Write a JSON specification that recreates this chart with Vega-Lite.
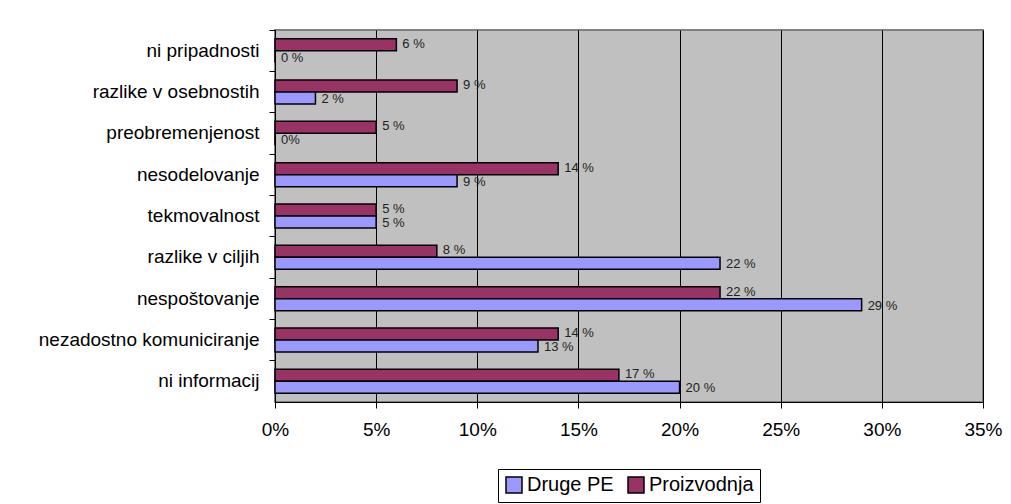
{
  "$schema": "https://vega.github.io/schema/vega-lite/v6.json",
  "width": 708,
  "height": 372,
  "autosize": {"type": "none"},
  "padding": {"left": 275, "top": 30, "right": 28, "bottom": 102},
  "background": "white",
  "data": {
    "values": [
      {"cause": "ni pripadnosti", "series": "Proizvodnja", "share": 0.06, "label": "6 %"},
      {"cause": "ni pripadnosti", "series": "Druge PE", "share": 0.0, "label": "0 %"},
      {"cause": "razlike v osebnostih", "series": "Proizvodnja", "share": 0.09, "label": "9 %"},
      {"cause": "razlike v osebnostih", "series": "Druge PE", "share": 0.02, "label": "2 %"},
      {"cause": "preobremenjenost", "series": "Proizvodnja", "share": 0.05, "label": "5 %"},
      {"cause": "preobremenjenost", "series": "Druge PE", "share": 0.0, "label": "0%"},
      {"cause": "nesodelovanje", "series": "Proizvodnja", "share": 0.14, "label": "14 %"},
      {"cause": "nesodelovanje", "series": "Druge PE", "share": 0.09, "label": "9 %"},
      {"cause": "tekmovalnost", "series": "Proizvodnja", "share": 0.05, "label": "5 %"},
      {"cause": "tekmovalnost", "series": "Druge PE", "share": 0.05, "label": "5 %"},
      {"cause": "razlike v ciljih", "series": "Proizvodnja", "share": 0.08, "label": "8 %"},
      {"cause": "razlike v ciljih", "series": "Druge PE", "share": 0.22, "label": "22 %"},
      {"cause": "nespoštovanje", "series": "Proizvodnja", "share": 0.22, "label": "22 %"},
      {"cause": "nespoštovanje", "series": "Druge PE", "share": 0.29, "label": "29 %"},
      {"cause": "nezadostno komuniciranje", "series": "Proizvodnja", "share": 0.14, "label": "14 %"},
      {"cause": "nezadostno komuniciranje", "series": "Druge PE", "share": 0.13, "label": "13 %"},
      {"cause": "ni informacij", "series": "Proizvodnja", "share": 0.17, "label": "17 %"},
      {"cause": "ni informacij", "series": "Druge PE", "share": 0.20, "label": "20 %"}
    ]
  },
  "encoding": {
    "y": {
      "field": "cause",
      "type": "nominal",
      "sort": ["ni pripadnosti", "razlike v osebnostih", "preobremenjenost", "nesodelovanje", "tekmovalnost", "razlike v ciljih", "nespoštovanje", "nezadostno komuniciranje", "ni informacij"],
      "scale": {"paddingInner": 0.42, "paddingOuter": 0.21},
      "axis": {
        "title": null,
        "labelFontSize": 19,
        "labelColor": "black",
        "labelLimit": 400,
        "tickColor": "black",
        "domainColor": "black",
        "tickSize": 6,
        "labelPadding": 10,
        "bandPosition": -0.362,
        "grid": false
      }
    },
    "yOffset": {
      "field": "series",
      "type": "nominal",
      "sort": ["Proizvodnja", "Druge PE"],
      "scale": {"paddingInner": 0, "paddingOuter": 0}
    },
    "x": {
      "field": "share",
      "type": "quantitative",
      "scale": {"domain": [0, 0.35], "nice": false},
      "axis": {
        "title": null,
        "format": ".0%",
        "values": [0, 0.05, 0.1, 0.15, 0.2, 0.25, 0.3, 0.35],
        "grid": true,
        "gridColor": "black",
        "gridOpacity": 1,
        "gridWidth": 1,
        "tickColor": "black",
        "tickSize": 6,
        "domainColor": "black",
        "labelFontSize": 19,
        "labelColor": "black",
        "labelPadding": 12,
        "labelFlush": false
      }
    }
  },
  "layer": [
    {
      "mark": {"type": "bar", "stroke": "black", "strokeWidth": 1.5},
      "encoding": {
        "color": {
          "field": "series",
          "type": "nominal",
          "scale": {"domain": ["Druge PE", "Proizvodnja"], "range": ["#9999FF", "#993366"]},
          "legend": {
            "title": null,
            "orient": "none",
            "legendX": 223,
            "legendY": 439,
            "direction": "horizontal",
            "fillColor": "white",
            "strokeColor": "black",
            "padding": 6,
            "symbolType": "square",
            "symbolSize": 256,
            "symbolStrokeColor": "black",
            "symbolStrokeWidth": 1.5,
            "symbolOpacity": 1,
            "labelFontSize": 20,
            "labelColor": "black",
            "labelOffset": 3,
            "columnPadding": 11
          }
        }
      }
    },
    {
      "transform": [{"filter": "datum.series === 'Proizvodnja'"}],
      "mark": {"type": "text", "align": "left", "baseline": "middle", "dx": 6, "dy": -1, "fontSize": 13, "color": "#222222"},
      "encoding": {"text": {"field": "label", "type": "nominal"}}
    },
    {
      "transform": [{"filter": "datum.series === 'Druge PE'"}],
      "mark": {"type": "text", "align": "left", "baseline": "middle", "dx": 6, "dy": 1, "fontSize": 13, "color": "#222222"},
      "encoding": {"text": {"field": "label", "type": "nominal"}}
    }
  ],
  "config": {
    "font": "Liberation Sans",
    "view": {"fill": "#C0C0C0", "stroke": "#808080", "strokeWidth": 2}
  }
}
